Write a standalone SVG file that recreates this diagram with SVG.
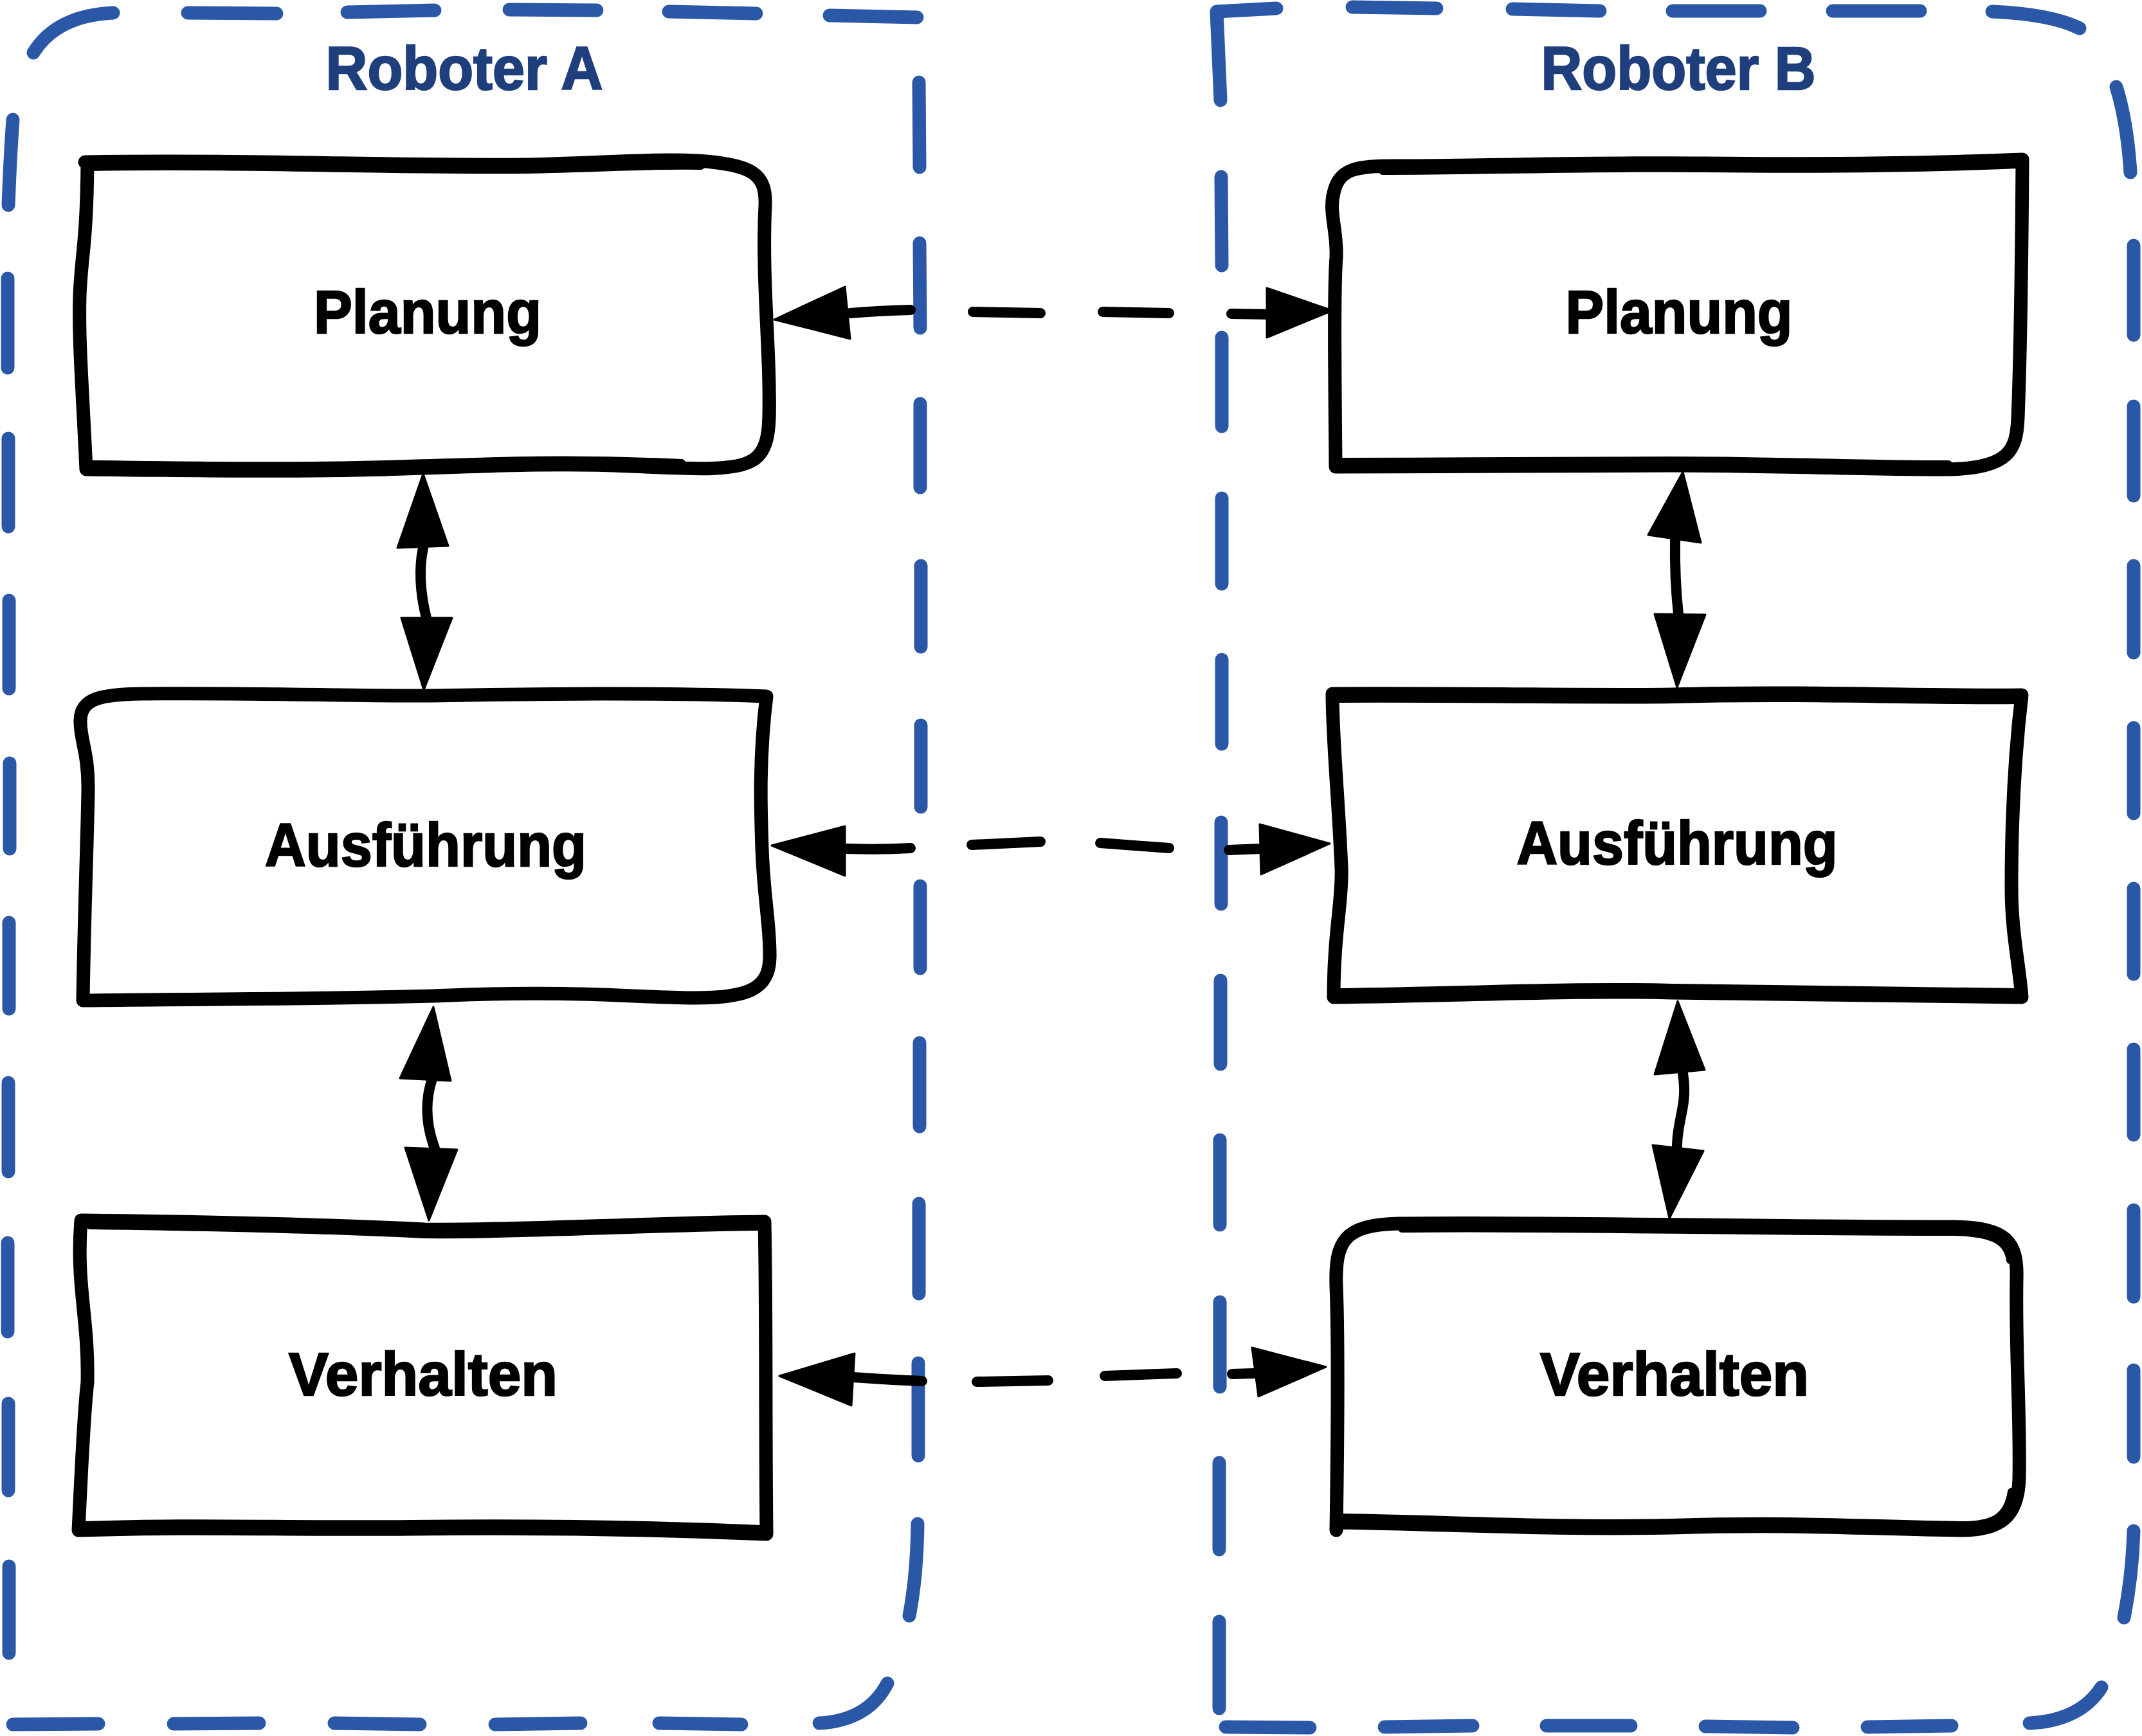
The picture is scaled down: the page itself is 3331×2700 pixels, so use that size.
<svg xmlns="http://www.w3.org/2000/svg" width="3331" height="2700" viewBox="0 0 3331 2700">
<style>
.cont{fill:none;stroke:#2b58a6;stroke-width:21;stroke-linecap:round;stroke-linejoin:round}
.title{font-family:"Liberation Sans",Arial,sans-serif;font-weight:bold;font-size:94px;fill:#1f3e7c;stroke:#1f3e7c;stroke-width:2.5;text-anchor:middle}
.box{fill:none;stroke:#000;stroke-width:21;stroke-linecap:round;stroke-linejoin:round}
.box2{fill:none;stroke:#000;stroke-width:12;stroke-linecap:round}
.lbl{font-family:"Liberation Sans",Arial,sans-serif;font-weight:bold;font-size:94px;fill:#000;stroke:#000;stroke-width:2.5;text-anchor:middle}
.ln{fill:none;stroke:#000;stroke-width:16;stroke-linecap:round;stroke-linejoin:round}
.head{fill:#000;stroke:#000;stroke-width:3;stroke-linejoin:round}
</style>
<rect width="3331" height="2700" fill="#fff"/>
<g id="robot-a">
<path class="cont" d="M52 82 Q88 24 176 20
M292 20 L430 21 M540 19 L676 16 M792 15 L928 16 M1040 18 L1176 21 M1290 24 L1426 27
M1429 128 L1430 260 M1430 378 L1431 510 M1431 628 L1431 758 M1432 880 L1432 1006 M1432 1128 L1432 1255 M1431 1378 L1431 1506 M1430 1622 L1430 1752 M1429 1872 L1429 2012 M1428 2120 L1428 2264 M1427 2370 Q1426 2450 1414 2513
M1380 2618 Q1350 2676 1274 2680
M1153 2682 L1025 2680 M903 2680 L770 2682 M653 2682 L520 2680 M403 2680 L270 2681 M153 2681 L20 2682
M20 186 Q16 240 13 319 M12 433 L12 572 M13 682 L13 819 M14 934 L14 1071 M15 1187 L15 1320 M14 1435 L14 1569 M13 1684 L13 1822 M12 1933 L12 2071 M13 2183 L13 2318 M14 2436 L14 2571"/>
<text class="title" x="722" y="139" textLength="431" lengthAdjust="spacingAndGlyphs">Roboter A</text>
</g>
<g id="robot-b">
<path class="cont" d="M1985 13 L1892 18 L1898 156
M2103 11 L2234 13 M2352 14 L2488 17 M2601 17 L2737 17 M2850 17 L2986 17 M3098 18 Q3190 22 3234 44
M3291 135 Q3308 190 3313 268
M3318 382 L3318 521 M3318 632 L3318 771 M3318 880 L3318 1015 M3318 1132 L3318 1265 M3318 1382 L3318 1515 M3318 1632 L3318 1765 M3318 1882 L3318 2017 M3318 2131 L3318 2266 M3318 2381 Q3316 2450 3303 2516
M3268 2624 Q3235 2676 3156 2680
M3035 2684 L2904 2686 M2788 2687 L2652 2685 M2536 2684 L2405 2684 M2290 2684 L2153 2686 M2037 2687 L1906 2686
M1899 275 L1900 413 M1900 525 L1900 663 M1900 775 L1900 908 M1900 1026 L1900 1157 M1899 1279 L1899 1406 M1898 1525 L1898 1655 M1897 1773 L1897 1905 M1897 2025 L1897 2157 M1896 2275 L1896 2410 M1896 2522 L1896 2657"/>
<text class="title" x="2610" y="139" textLength="427" lengthAdjust="spacingAndGlyphs">Roboter B</text>
</g>
<g id="a-planung">
<path class="box" d="M132 252 C400 248 600 258 820 256 C930 254 1020 246 1085 250 C1170 256 1192 270 1190 320 C1185 420 1195 520 1196 600 C1197 660 1198 700 1170 716 C1140 735 1060 728 980 725 C870 720 780 724 600 730 C450 734 300 732 134 730 C128 600 122 530 124 460 C126 400 135 380 136 252 Z"/>
<path class="box2" d="M140 260 C400 256 600 266 820 264 C930 262 1020 256 1090 258 M140 722 C300 724 450 726 600 722 C780 716 900 712 1060 720"/>
<text class="lbl" x="665" y="518" textLength="354" lengthAdjust="spacingAndGlyphs">Planung</text>
</g>
<g id="a-ausfuehrung">
<path class="box" d="M129 1556 C131 1420 136 1300 137 1230 C138 1170 124 1150 125 1120 C126 1085 160 1080 220 1079 C400 1077 550 1083 660 1082 C800 1080 1000 1076 1192 1083 C1180 1180 1183 1260 1185 1320 C1188 1400 1198 1440 1197 1490 C1196 1540 1160 1552 1080 1552 C1000 1552 900 1540 700 1548 C550 1554 350 1553 129 1556 Z"/>
<text class="lbl" x="662" y="1347" textLength="500" lengthAdjust="spacingAndGlyphs">Ausführung</text>
</g>
<g id="a-verhalten">
<path class="box" d="M130 1898 C300 1900 500 1904 660 1912 C800 1914 1000 1902 1189 1900 C1192 2050 1190 2200 1192 2386 C1000 2378 800 2376 640 2378 C450 2380 300 2374 122 2380 C126 2300 130 2200 136 2150 C138 2050 118 2000 126 1898 Z"/>
<path class="box2" d="M140 1906 C300 1908 500 1912 660 1920 C800 1922 1000 1910 1180 1908 M130 2372 C300 2366 450 2372 640 2370 C800 2368 1000 2370 1184 2378"/>
<text class="lbl" x="658" y="2170" textLength="418" lengthAdjust="spacingAndGlyphs">Verhalten</text>
</g>
<g id="b-planung">
<path class="box" d="M2077 724 C2076 600 2074 450 2078 400 C2080 360 2066 330 2074 300 C2082 262 2110 258 2170 258 C2300 258 2500 252 2650 254 C2850 256 3000 254 3145 248 C3144 400 3142 550 3138 650 C3136 700 3125 728 3030 730 C2900 730 2750 724 2600 724 C2400 724 2250 726 2077 726 Z"/>
<path class="box2" d="M2150 266 C2300 266 2500 260 2650 262 C2850 264 3000 262 3136 256 M2085 718 C2250 718 2400 716 2600 716 C2750 716 2900 722 3030 722"/>
<text class="lbl" x="2611" y="518" textLength="353" lengthAdjust="spacingAndGlyphs">Planung</text>
</g>
<g id="b-ausfuehrung">
<path class="box" d="M2072 1079 C2300 1078 2500 1082 2600 1080 C2800 1074 3000 1083 3144 1081 C3130 1200 3128 1300 3128 1380 C3128 1450 3140 1500 3144 1551 C3000 1548 2800 1548 2600 1544 C2450 1540 2300 1548 2074 1551 C2074 1450 2088 1400 2086 1350 C2082 1250 2072 1150 2072 1079 Z"/>
<path class="box2" d="M2080 1087 C2300 1086 2500 1090 2600 1088 C2800 1082 3000 1091 3136 1089 M2082 1543 C2300 1540 2450 1532 2600 1536 C2800 1540 3000 1540 3136 1543"/>
<text class="lbl" x="2608" y="1344" textLength="499" lengthAdjust="spacingAndGlyphs">Ausführung</text>
</g>
<g id="b-verhalten">
<path class="box" d="M2078 2380 C2080 2250 2082 2100 2078 2000 C2076 1930 2090 1905 2175 1903 C2400 1900 2700 1908 3040 1908 C3120 1910 3138 1930 3136 1990 C3134 2100 3142 2200 3140 2300 C3138 2360 3110 2380 3050 2380 C2900 2378 2800 2370 2600 2376 C2400 2380 2250 2370 2078 2368"/>
<path class="box2" d="M2180 1911 C2400 1908 2700 1916 3040 1916 C3100 1918 3122 1930 3126 1960 M2086 2360 C2250 2362 2400 2372 2600 2368 C2800 2362 2900 2370 3050 2372 C3100 2372 3122 2360 3128 2320"/>
<text class="lbl" x="2604" y="2170" textLength="418" lengthAdjust="spacingAndGlyphs">Verhalten</text>
</g>
<g id="connectors">
<path class="ln" d="M1322 487 Q1370 483 1416 482 M1513 485 L1618 487 M1715 485 L1818 487 M1915 488 L1975 489"/>
<polygon class="head" points="1204,497 1314,446 1322,527"/>
<polygon class="head" points="2072,483 1970,448 1970,525"/>
<path class="ln" d="M1317 1320 Q1370 1322 1416 1319 M1511 1314 L1618 1309 M1711 1311 L1818 1319 M1911 1322 L1962 1320"/>
<polygon class="head" points="1200,1315 1314,1285 1314,1362"/>
<polygon class="head" points="2068,1312 1959,1282 1961,1360"/>
<path class="ln" d="M1327 2142 Q1380 2146 1434 2148 M1519 2149 L1630 2147 M1718 2140 L1830 2136 M1916 2137 L1950 2136"/>
<polygon class="head" points="1212,2140 1329,2105 1324,2186"/>
<polygon class="head" points="2062,2126 1947,2096 1957,2172"/>
<path class="ln" d="M658 852 Q648 900 663 961"/>
<polygon class="head" points="658,737 618,852 697,849"/>
<polygon class="head" points="659,1073 624,961 703,961"/>
<path class="ln" d="M672 1678 Q655 1730 676 1786"/>
<polygon class="head" points="674,1566 622,1677 701,1681"/>
<polygon class="head" points="667,1898 630,1785 711,1788"/>
<path class="ln" d="M2605 839 Q2604 900 2610 955"/>
<polygon class="head" points="2617,734 2563,832 2645,844"/>
<polygon class="head" points="2608,1069 2573,955 2652,956"/>
<path class="ln" d="M2617 1669 C2625 1720 2608 1740 2608 1783"/>
<polygon class="head" points="2609,1557 2573,1671 2651,1664"/>
<polygon class="head" points="2596,1895 2570,1781 2649,1790"/>
</g>
</svg>
